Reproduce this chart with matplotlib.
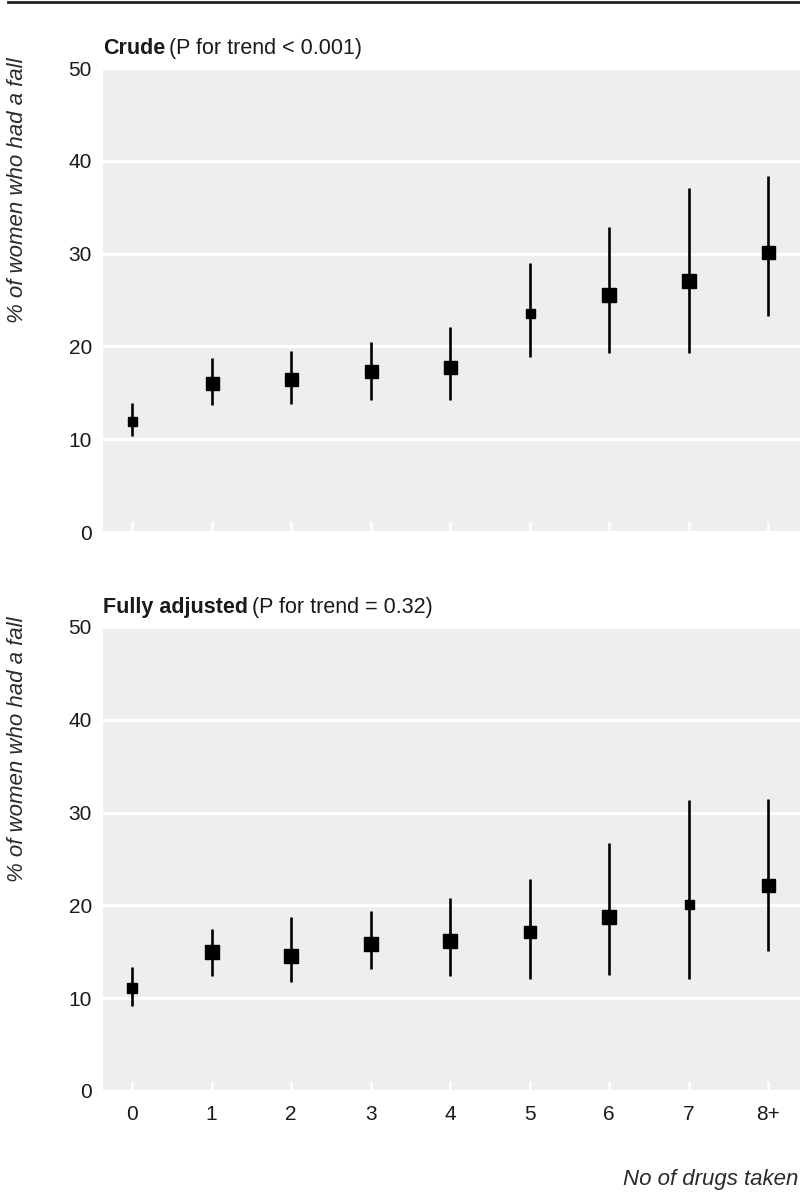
import matplotlib
matplotlib.use("Agg")
import matplotlib.pyplot as plt
import numpy as np

plt.rcParams['font.family'] = ['Liberation Sans', 'DejaVu Sans']

categories = ["0", "1", "2", "3", "4", "5", "6", "7", "8+"]

crude_est = [12.0, 16.1, 16.5, 17.3, 17.8, 23.6, 25.5, 27.1, 30.2]
crude_lo = [10.3, 13.7, 13.8, 14.2, 14.2, 18.9, 19.3, 19.3, 23.3]
crude_hi = [13.9, 18.7, 19.5, 20.5, 22.1, 29.0, 32.9, 37.1, 38.4]

adj_est = [11.1, 15.0, 14.6, 15.8, 16.2, 17.1, 18.8, 20.2, 22.2]
adj_lo = [9.2, 12.4, 11.7, 13.1, 12.4, 12.1, 12.5, 12.1, 15.1]
adj_hi = [13.4, 17.5, 18.7, 19.4, 20.8, 22.8, 26.7, 31.4, 31.5]

# marker sizes (px) as drawn in the reference
crude_ms = [9, 13, 13, 13, 13, 9, 14, 14, 13]
adj_ms = [10, 14, 14, 14, 14, 12, 14, 9, 13]

W, H = 800, 1197
fig = plt.figure(figsize=(W / 100, H / 100), dpi=100)

def px_axes(x0, y0, x1, y1):
    return fig.add_axes([x0 / W, 1 - y1 / H, (x1 - x0) / W, (y1 - y0) / H])

ax1 = px_axes(103, 68, 800, 532)
ax2 = px_axes(103, 627, 800, 1091)

bg = '#eeeeee'
txt = '#1a1a1a'
xs = np.arange(len(categories))

for ax, est, lo, hi, ms in [(ax1, crude_est, crude_lo, crude_hi, crude_ms),
                            (ax2, adj_est, adj_lo, adj_hi, adj_ms)]:
    ax.set_facecolor(bg)
    for s in ax.spines.values():
        s.set_visible(False)
    ax.set_ylim(0, 50)
    ax.set_xlim(-0.365, 8.4)
    ax.set_yticks([0, 10, 20, 30, 40, 50])
    ax.set_xticks(xs)
    ax.grid(axis='y', color='white', linewidth=2.2)
    ax.set_axisbelow(True)
    ax.tick_params(axis='x', direction='in', color='white', width=1.8, length=7,
                   pad=10, labelcolor=txt)
    ax.tick_params(axis='y', length=0, pad=8, labelsize=15, labelcolor=txt)
    for i in range(len(categories)):
        ax.plot([xs[i], xs[i]], [lo[i], hi[i]], color='black', linewidth=1.9,
                solid_capstyle='butt', zorder=3)
        ax.plot(xs[i], est[i], marker='s', markersize=ms[i] * 0.72,
                color='black', linestyle='none', zorder=4)

ax1.set_xticklabels([])
ax2.set_xticklabels(categories, fontsize=15)

# top rule
fig.add_artist(plt.Line2D([8 / W, 1], [1 - 2 / H, 1 - 2 / H], color='#222222',
                          linewidth=2.0, transform=fig.transFigure))

# panel titles
fig.canvas.draw()
renderer = fig.canvas.get_renderer()

def title(x, y, bold, rest):
    t = fig.text(x / W, 1 - y / H, bold, fontsize=15.5, fontweight='bold',
                 ha='left', va='baseline', color=txt)
    bb = t.get_window_extent(renderer=renderer)
    fig.text(bb.x1 / W + 4 / W, 1 - y / H, rest, fontsize=15.5,
             ha='left', va='baseline', color=txt)

title(103, 54, "Crude", "(P for trend < 0.001)")
title(103, 613, "Fully adjusted", "(P for trend = 0.32)")

# y labels
for ytop in (57, 616):
    fig.text(18 / W, 1 - ytop / H, "% of women who had a fall", rotation=90,
             fontsize=16, style='italic', ha='center', va='top', color='#2a2a2a')

# x label
fig.text(798 / W, 1 - 1180 / H, "No of drugs taken", fontsize=16, style='italic',
         ha='right', va='center', color='#2a2a2a')

fig.savefig("out.png", dpi=100)
